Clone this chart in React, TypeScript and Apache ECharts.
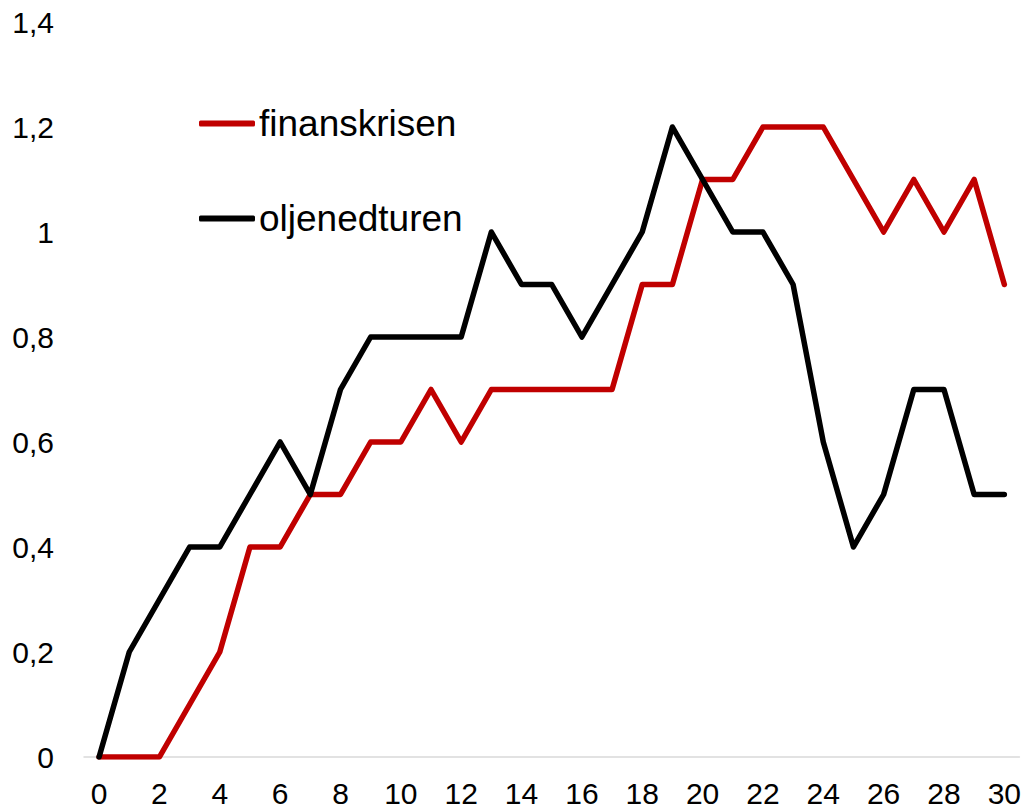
import React, { useEffect, useRef } from "react";
import * as echarts from "echarts";

const categories = Array.from({ length: 31 }, (_, i) => String(i));
const finanskrisen = [0, 0, 0, 0.1, 0.2, 0.4, 0.4, 0.5, 0.5, 0.6, 0.6, 0.7, 0.6, 0.7, 0.7, 0.7, 0.7, 0.7, 0.9, 0.9, 1.1, 1.1, 1.2, 1.2, 1.2, 1.1, 1.0, 1.1, 1.0, 1.1, 0.9];
const oljenedturen = [0, 0.2, 0.3, 0.4, 0.4, 0.5, 0.6, 0.5, 0.7, 0.8, 0.8, 0.8, 0.8, 1.0, 0.9, 0.9, 0.8, 0.9, 1.0, 1.2, 1.1, 1.0, 1.0, 0.9, 0.6, 0.4, 0.5, 0.7, 0.7, 0.5, 0.5];

const FONT = "'Liberation Sans', Arial, sans-serif";

export default function App() {
  const ref = useRef<HTMLDivElement>(null);
  useEffect(() => {
    if (!ref.current) return;
    const chart = echarts.init(ref.current, null, { renderer: "svg" });
    chart.setOption({
      animation: false,
      backgroundColor: "#ffffff",
      grid: { left: 84, right: 4, top: 22, bottom: 51, containLabel: false },
      legend: {
        orient: "vertical",
        left: 194,
        top: 100,
        icon: "roundRect",
        itemWidth: 56,
        itemHeight: 6,
        itemGap: 58,
        textStyle: { fontFamily: FONT, fontSize: 37, color: "#000", padding: [0, 0, 0, -1] },
        data: ["finanskrisen", "oljenedturen"],
      },
      xAxis: {
        type: "category",
        data: categories,
        boundaryGap: true,
        axisLine: { show: true, lineStyle: { color: "#d9d9d9", width: 1.5 } },
        axisTick: { show: false },
        axisLabel: {
          interval: 1,
          margin: 22,
          fontFamily: FONT,
          fontSize: 30,
          lineHeight: 28,
          color: "#000",
        },
        splitLine: { show: false },
      },
      yAxis: {
        type: "value",
        min: 0,
        max: 1.4,
        interval: 0.2,
        axisLine: { show: false },
        axisTick: { show: false },
        splitLine: { show: false },
        axisLabel: {
          margin: 30,
          fontFamily: FONT,
          fontSize: 30,
          color: "#000",
          formatter: (v: number) => String(Math.round(v * 10) / 10).replace(".", ","),
        },
      },
      series: [
        {
          name: "finanskrisen",
          type: "line",
          data: finanskrisen,
          symbol: "none",
          color: "#c00000",
          itemStyle: { color: "#c00000" },
          lineStyle: { color: "#c00000", width: 5.5, cap: "round", join: "round" },
        },
        {
          name: "oljenedturen",
          type: "line",
          data: oljenedturen,
          symbol: "none",
          color: "#000000",
          itemStyle: { color: "#000000" },
          lineStyle: { color: "#000000", width: 5.5, cap: "round", join: "round" },
        },
      ],
    });
    return () => chart.dispose();
  }, []);
  return (
    <div
      ref={ref}
      style={{ position: "absolute", left: 0, top: 0, width: 1024, height: 808 }}
    />
  );
}
